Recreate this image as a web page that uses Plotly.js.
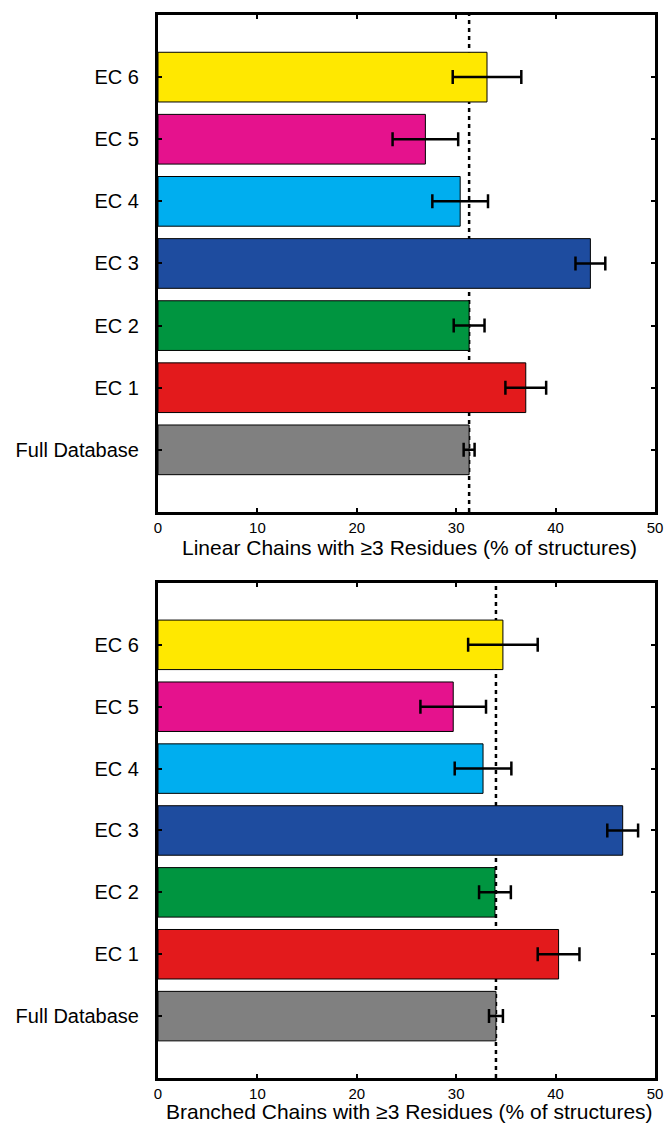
<!DOCTYPE html>
<html>
<head>
<meta charset="utf-8">
<script src="https://cdn.plot.ly/plotly-3.0.1.min.js"></script>
<style>html,body{margin:0;padding:0;background:#fff;}#chart{width:666px;height:1126px;}</style>
</head>
<body>
<div id="chart"></div>
<script>
// Data
var categories = ['Full Database', 'EC 1', 'EC 2', 'EC 3', 'EC 4', 'EC 5', 'EC 6'];
var colors = ['#808080', '#E31A1C', '#009540', '#1E4C9F', '#00AEEF', '#E5128D', '#FFE800'];

var linearValues = [31.3, 37.0, 31.3, 43.5, 30.4, 26.9, 33.1];
var linearErrors = [0.55, 2.05, 1.55, 1.5, 2.8, 3.3, 3.45];
var linearReference = 31.3;

var branchedValues = [34.0, 40.3, 33.9, 46.75, 32.7, 29.7, 34.7];
var branchedErrors = [0.7, 2.1, 1.6, 1.55, 2.85, 3.3, 3.5];
var branchedReference = 34.0;

var xTickValues = [0, 10, 20, 30, 40, 50];
var linearTitle = 'Linear Chains with \u22653 Residues (% of structures)';
var branchedTitle = 'Branched Chains with \u22653 Residues (% of structures)';

var FONT = 'Liberation Sans, Arial, Helvetica, sans-serif';

function barTrace(values, errors, xa, ya) {
  return {
    type: 'bar',
    orientation: 'h',
    x: values,
    y: categories,
    xaxis: xa,
    yaxis: ya,
    width: 0.8,
    marker: {color: colors, line: {color: '#000', width: 1}},
    error_x: {type: 'data', array: errors, visible: true, color: '#000', thickness: 2.5, width: 7},
    hoverinfo: 'x+y',
    showlegend: false
  };
}

var data = [
  barTrace(linearValues, linearErrors, 'x', 'y'),
  barTrace(branchedValues, branchedErrors, 'x2', 'y2')
];

function xAxis(anchor) {
  return {
    anchor: anchor,
    range: [0, 50],
    tickvals: xTickValues,
    ticktext: xTickValues.map(String),
    ticks: 'inside',
    ticklen: 4,
    tickwidth: 2,
    tickcolor: '#000',
    showline: true,
    linewidth: 3,
    linecolor: '#000',
    mirror: 'ticks',
    showgrid: false,
    zeroline: false,
    tickfont: {family: FONT, size: 15, color: '#000'},
    fixedrange: true
  };
}

function yAxis(anchor, domain) {
  return {
    anchor: anchor,
    domain: domain,
    type: 'category',
    categoryorder: 'array',
    categoryarray: categories,
    range: [-1, 7],
    ticks: 'inside',
    ticklen: 4,
    tickwidth: 2,
    tickcolor: '#000',
    showline: true,
    linewidth: 3,
    linecolor: '#000',
    mirror: 'ticks',
    showgrid: false,
    zeroline: false,
    ticklabelstandoff: 12,
    tickfont: {family: FONT, size: 20, color: '#000'},
    fixedrange: true
  };
}

var layout = {
  width: 666,
  height: 1126,
  margin: {l: 158, r: 11, t: 15, b: 48},
  paper_bgcolor: '#fff',
  plot_bgcolor: '#fff',
  font: {family: FONT, color: '#000'},
  showlegend: false,
  bargap: 0.2,
  xaxis: xAxis('y'),
  yaxis: yAxis('x', [0.5325, 1]),
  xaxis2: xAxis('y2'),
  yaxis2: yAxis('x2', [0, 0.4657]),
  shapes: [
    {type: 'line', xref: 'x', yref: 'y domain', x0: linearReference, x1: linearReference, y0: 0, y1: 1,
     line: {color: '#000', width: 2.5, dash: '4px,4px'}, layer: 'below'},
    {type: 'line', xref: 'x2', yref: 'y2 domain', x0: branchedReference, x1: branchedReference, y0: 0, y1: 1,
     line: {color: '#000', width: 2.5, dash: '4px,4px'}, layer: 'below'}
  ],
  annotations: [
    {text: linearTitle, xref: 'x', yref: 'paper', x: 25.3, y: 0.5325, yshift: -22, xanchor: 'center', yanchor: 'top',
     showarrow: false, font: {family: FONT, size: 21, color: '#000'}},
    {text: branchedTitle, xref: 'x2', yref: 'paper', x: 25.3, y: 0, yshift: -47, xanchor: 'center', yanchor: 'bottom',
     showarrow: false, font: {family: FONT, size: 21, color: '#000'}}
  ]
};

Plotly.newPlot('chart', data, layout, {displayModeBar: false, staticPlot: true});
</script>
</body>
</html>
